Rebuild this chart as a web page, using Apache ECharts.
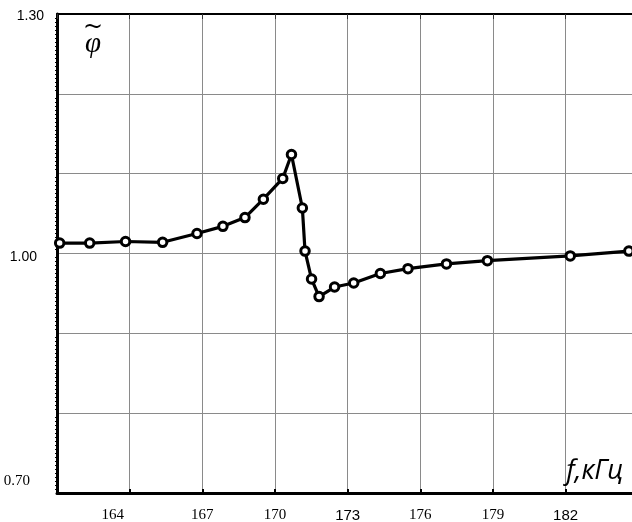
<!DOCTYPE html>
<html>
<head>
<meta charset="utf-8">
<script src="https://cdn.jsdelivr.net/npm/echarts@6/dist/echarts.min.js"></script>
<style>html,body{margin:0;padding:0;background:#fff;}#c{width:632px;height:522px;}</style>
</head>
<body>
<div id="c"></div>
<script>
// ---- data ----
const freq = [161.11, 162.35, 163.83, 165.36, 166.78, 167.85, 168.76, 169.52, 170.32, 170.68, 171.13, 171.24, 171.51, 171.82, 172.46, 173.25, 174.35, 175.49, 177.08, 178.77, 182.19, 184.61];
const phi  = [1.013, 1.013, 1.015, 1.014, 1.025, 1.034, 1.045, 1.068, 1.094, 1.124, 1.057, 1.003, 0.968, 0.946, 0.958, 0.963, 0.975, 0.981, 0.987, 0.991, 0.997, 1.003];
const xTickLabels = [164, 167, 170, 173, 176, 179, 182];
const yTickLabels = ['1.30', '1.00', '0.70'];
const xAxisName = 'f,кГц';
const yAxisName = 'φ';

// ---- styles (kept apart from data) ----
const xLabelStyleKey = {164: 'sh', 167: 'se', 170: 'se', 173: 'sa', 176: 'se', 179: 'se', 182: 'sa'};
const yLabelStyleKey = {'1.30': 'a', '1.00': 'b', '0.70': 'c'};

const chart = echarts.init(document.getElementById('c'), null, {renderer: 'canvas'});
const serif = '"Liberation Serif", "Times New Roman", serif';
const sans = '"Liberation Sans", Arial, sans-serif';

const option = {
  animation: false,
  backgroundColor: '#fff',
  grid: {left: 57, right: -6.3, top: 14, bottom: 29, containLabel: false, outerBoundsMode: 'none'},
  xAxis: [{
    type: 'value', min: 161, max: 185, interval: 3, position: 'bottom',
    axisLine: {show: true, onZero: false, lineStyle: {color: '#000', width: 3}},
    axisTick: {show: true, inside: true, length: 4, lineStyle: {color: '#000', width: 2}},
    splitLine: {show: true, lineStyle: {color: '#8a8a8a', width: 1}},
    axisLabel: {
      margin: 15, color: '#000',
      formatter: function (v) {
        const r = Math.round(v);
        if (xTickLabels.indexOf(r) < 0) return '';
        return '{' + xLabelStyleKey[r] + '|' + r + '}';
      },
      rich: {
        se: {fontFamily: serif, fontSize: 15, color: '#000'},
        sh: {fontFamily: serif, fontSize: 15, color: '#000', padding: [0, 34, 0, 0]},
        sa: {fontFamily: sans, fontSize: 15, color: '#000'}
      }
    },
    name: xAxisName, nameLocation: 'end', nameGap: -72,
    nameTextStyle: {align: 'left', verticalAlign: 'bottom', padding: [0, 0, 8, 0], fontSize: 27, fontStyle: 'italic', fontFamily: '"Open Sans", "Liberation Sans", sans-serif', color: '#000'}
  }, {
    type: 'value', min: 161, max: 185, interval: 3, position: 'top',
    axisLine: {show: true, onZero: false, lineStyle: {color: '#000', width: 2}},
    axisTick: {show: true, inside: true, length: 5, lineStyle: {color: '#333', width: 1}},
    splitLine: {show: false},
    axisLabel: {show: false}
  }],
  yAxis: {
    type: 'value', min: 0.7, max: 1.3, interval: 0.1,
    axisLine: {show: true, onZero: false, lineStyle: {color: '#000', width: 3}},
    axisTick: {show: false},
    minorTick: {show: true, splitNumber: 20, length: 2, lineStyle: {color: '#000', width: 1}},
    splitLine: {show: true, lineStyle: {color: '#8a8a8a', width: 1}},
    axisLabel: {
      margin: 13, color: '#000',
      formatter: function (v) {
        const s = v.toFixed(2);
        if (yTickLabels.indexOf(s) < 0) return '';
        return '{' + yLabelStyleKey[s] + '|' + s + '}';
      },
      rich: {
        a: {fontFamily: sans, fontSize: 14, color: '#000', padding: [4, 0, 0, 0]},
        b: {fontFamily: sans, fontSize: 14, color: '#000', padding: [8, 7, 0, 0]},
        c: {fontFamily: serif, fontSize: 15, color: '#000', padding: [0, 14, 24, 0]}
      }
    },
    name: '{t|~}\n{p|' + yAxisName + '}', nameLocation: 'end', nameGap: -44,
    nameTextStyle: {
      align: 'center', verticalAlign: 'bottom', padding: [0, 0, 0, 72],
      rich: {
        t: {fontFamily: '"DejaVu Serif", serif', fontSize: 24, color: '#000', lineHeight: 4, align: 'center'},
        p: {fontFamily: serif, fontSize: 29, fontStyle: 'italic', color: '#000', lineHeight: 28, align: 'center'}
      }
    }
  },
  series: [{
    type: 'line', xAxisIndex: 0,
    data: freq.map((f, i) => [f, phi[i]]),
    clip: false,
    smooth: false,
    lineStyle: {color: '#000', width: 3.2},
    symbol: 'circle', symbolSize: 8.5,
    itemStyle: {color: '#fff', borderColor: '#000', borderWidth: 3}
  }]
};
chart.setOption(option);
</script>
</body>
</html>
